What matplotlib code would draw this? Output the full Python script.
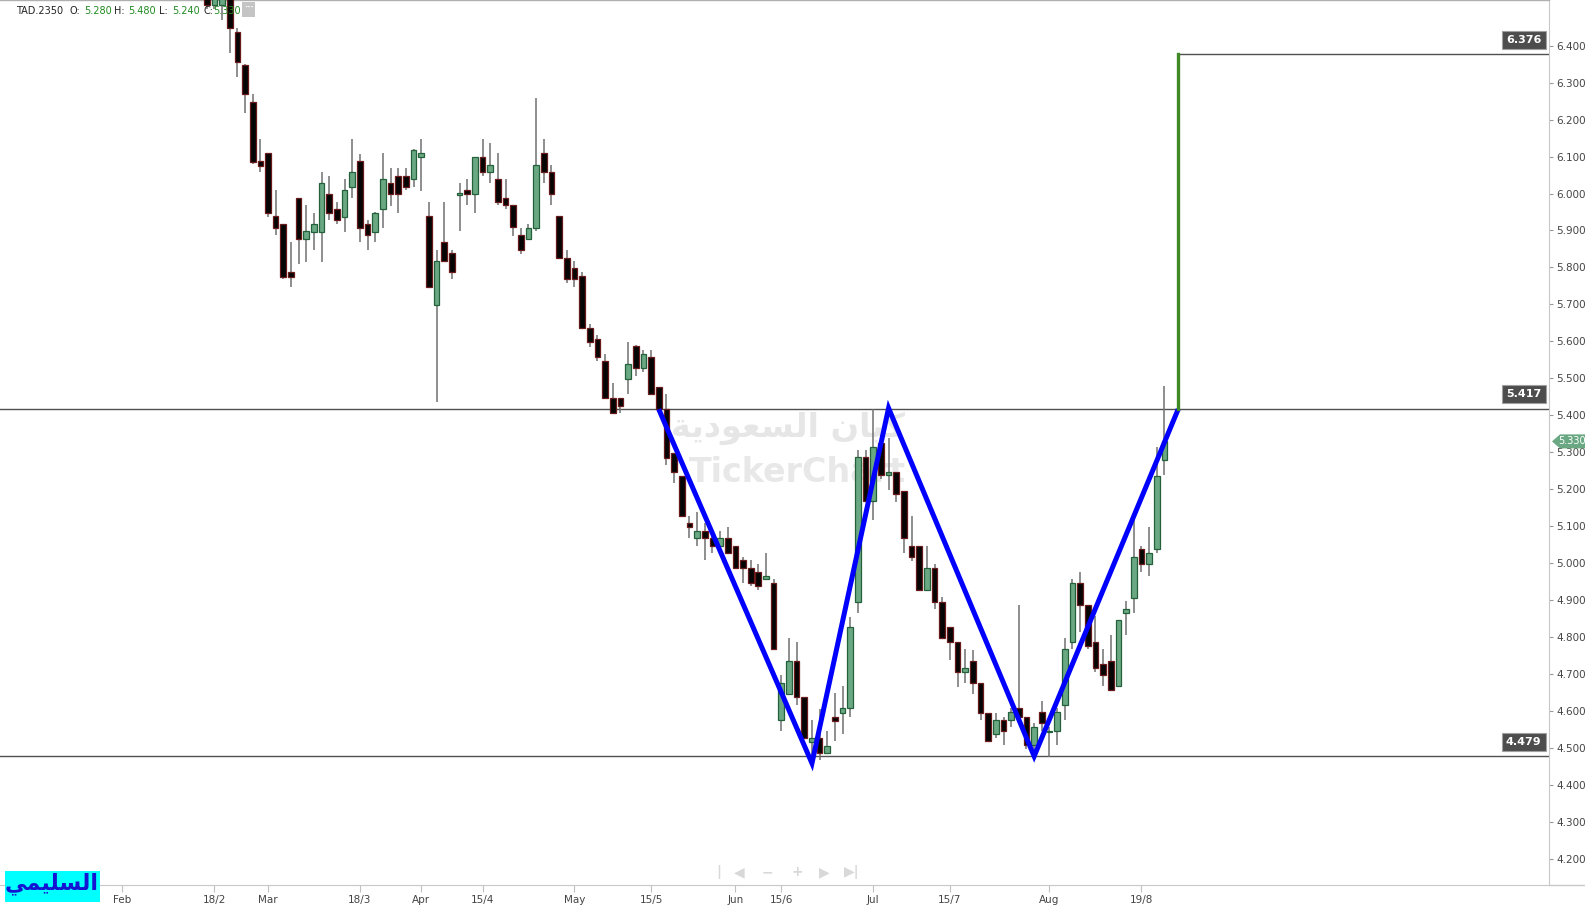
import matplotlib
matplotlib.use('Agg')
import matplotlib.pyplot as plt
from matplotlib.patches import Rectangle, Polygon
from matplotlib.lines import Line2D
import matplotlib.transforms as mtransforms
import numpy as np

W, H = 1585, 907

# ---------------- data ----------------
opens = [6.56, 6.51, 6.51, 6.56, 6.437, 6.347, 6.246, 6.087, 6.109, 5.938,
         5.917, 5.787, 5.987, 5.876, 5.897, 5.897, 5.998, 5.957, 5.937, 6.017,
         6.087, 5.917, 5.897, 5.957, 6.028, 6.047, 6.047, 6.038, 6.098, 5.938,
         5.698, 5.868, 5.838, 5.997, 6.009, 5.998, 6.098, 6.058, 6.038, 5.987,
         5.968, 5.887, 5.876, 5.908, 6.109, 6.058, 5.938, 5.827, 5.798, 5.777,
         5.637, 5.608, 5.547, 5.446, 5.446, 5.498, 5.587, 5.528, 5.557, 5.476,
         5.417, 5.298, 5.237, 5.109, 5.068, 5.088, 5.068, 5.047, 5.068, 5.047,
         5.010, 4.987, 4.976, 4.957, 4.946, 4.577, 4.646, 4.737, 4.638, 4.517,
         4.528, 4.487, 4.586, 4.597, 4.609, 4.897, 5.287, 5.169, 5.325, 5.238,
         5.247, 5.197, 5.047, 5.047, 4.928, 4.987, 4.897, 4.827, 4.787, 4.708,
         4.737, 4.676, 4.597, 4.538, 4.577, 4.577, 4.609, 4.586, 4.510, 4.598,
         4.544, 4.547, 4.618, 4.787, 4.946, 4.888, 4.787, 4.727, 4.737, 4.669,
         4.867, 4.908, 5.038, 4.998, 5.038, 5.280]
highs = [6.60, 6.60, 6.60, 6.60, 6.446, 6.350, 6.268, 6.146, 6.109, 6.010,
         5.917, 5.868, 5.987, 5.969, 5.946, 6.057, 6.047, 5.977, 6.038, 6.146,
         6.108, 5.928, 5.950, 6.109, 6.068, 6.068, 6.068, 6.120, 6.146, 5.978,
         5.847, 5.976, 5.847, 6.028, 6.038, 6.098, 6.146, 6.137, 6.109, 6.038,
         5.968, 5.908, 5.917, 6.258, 6.146, 6.076, 5.938, 5.847, 5.817, 5.787,
         5.646, 5.618, 5.567, 5.487, 5.446, 5.598, 5.590, 5.577, 5.577, 5.476,
         5.457, 5.298, 5.237, 5.128, 5.138, 5.109, 5.088, 5.088, 5.098, 5.047,
         5.017, 5.010, 4.998, 5.027, 4.957, 4.699, 4.798, 4.787, 4.638, 4.577,
         4.607, 4.548, 4.649, 4.669, 4.856, 5.308, 5.308, 5.417, 5.347, 5.338,
         5.247, 5.197, 5.127, 5.047, 5.047, 4.999, 4.909, 4.827, 4.787, 4.768,
         4.766, 4.676, 4.597, 4.597, 4.586, 4.609, 4.888, 4.586, 4.568, 4.627,
         4.557, 4.609, 4.798, 4.957, 4.976, 4.888, 4.857, 4.768, 4.808, 4.847,
         4.898, 5.140, 5.047, 5.098, 5.316, 5.480]
lows = [6.50, 6.50, 6.47, 6.38, 6.316, 6.217, 6.080, 6.057, 5.937, 5.888,
        5.770, 5.746, 5.809, 5.816, 5.846, 5.816, 5.928, 5.917, 5.897, 5.987,
        5.868, 5.847, 5.868, 5.908, 5.967, 5.946, 6.010, 6.017, 6.008, 5.746,
        5.437, 5.817, 5.768, 5.899, 5.968, 5.946, 6.047, 6.028, 5.968, 5.957,
        5.886, 5.837, 5.876, 5.899, 6.028, 5.968, 5.827, 5.757, 5.746, 5.637,
        5.586, 5.546, 5.446, 5.408, 5.408, 5.457, 5.508, 5.517, 5.457, 5.417,
        5.266, 5.217, 5.127, 5.068, 5.047, 5.010, 5.027, 5.047, 5.027, 4.987,
        4.946, 4.939, 4.928, 4.957, 4.768, 4.548, 4.646, 4.618, 4.528, 4.469,
        4.469, 4.487, 4.519, 4.538, 4.586, 4.867, 5.169, 5.118, 5.227, 5.199,
        5.167, 5.027, 5.008, 4.928, 4.928, 4.876, 4.798, 4.739, 4.667, 4.676,
        4.647, 4.577, 4.519, 4.527, 4.509, 4.557, 4.586, 4.498, 4.478, 4.547,
        4.478, 4.510, 4.577, 4.768, 4.816, 4.768, 4.708, 4.669, 4.658, 4.669,
        4.808, 4.867, 4.976, 4.967, 5.028, 5.240]
closes = [6.51, 6.56, 6.56, 6.446, 6.356, 6.268, 6.086, 6.075, 5.946, 5.908,
          5.775, 5.775, 5.876, 5.899, 5.917, 6.028, 5.946, 5.928, 6.009, 6.057,
          5.908, 5.887, 5.946, 6.038, 5.998, 5.998, 6.017, 6.117, 6.109, 5.746,
          5.817, 5.817, 5.787, 6.000, 5.998, 6.098, 6.058, 6.076, 5.976, 5.968,
          5.909, 5.846, 5.908, 6.076, 6.058, 5.998, 5.827, 5.768, 5.768, 5.637,
          5.598, 5.557, 5.446, 5.408, 5.427, 5.538, 5.528, 5.567, 5.457, 5.417,
          5.286, 5.246, 5.127, 5.098, 5.088, 5.068, 5.047, 5.068, 5.027, 4.987,
          4.987, 4.946, 4.939, 4.966, 4.768, 4.676, 4.737, 4.638, 4.528, 4.528,
          4.487, 4.508, 4.575, 4.609, 4.827, 5.287, 5.169, 5.316, 5.238, 5.247,
          5.188, 5.068, 5.017, 4.928, 4.987, 4.897, 4.798, 4.787, 4.708, 4.717,
          4.676, 4.597, 4.519, 4.577, 4.547, 4.598, 4.586, 4.510, 4.557, 4.568,
          4.547, 4.598, 4.768, 4.946, 4.888, 4.777, 4.717, 4.699, 4.658, 4.847,
          4.876, 5.017, 4.998, 5.028, 5.237, 5.330]

tick_idx = [-11, 1, 8, 20, 28, 36, 48, 58, 69, 75, 87, 97, 110, 122]
tick_labels = ['Feb', '18/2', 'Mar', '18/3', 'Apr', '15/4', 'May', '15/5',
               'Jun', '15/6', 'Jul', '15/7', 'Aug', '19/8']

pattern_x = [59, 79, 89, 108, 126.8]
pattern_y = [5.417, 4.460, 5.420, 4.479, 5.417]
target_level = 6.376
neckline = 5.417
support = 4.479
last_close = 5.330
y_ticks = [round(4.2 + 0.1 * k, 1) for k in range(23)]

symbol = 'TAD.2350'
ohlc_head = [('O:', '5.280'), ('H:', '5.480'), ('L:', '5.240'), ('C:', '5.330')]

# Arabic text in shaped (presentation) forms, visual order
logo_text = '\uFEF2\uFEE4\uFEF4\uFEE0\uFEB4\uFEDF\uFE8D'          # السليمي
wm_arabic = '\uFE94\uFEF3\uFEA9\uFEEE\uFECC\uFEB4\uFEDF\uFE8D \uFEE5\uFE8E\uFEF4\uFEDB'  # كيان السعودية

# ---------------- figure ----------------
fig = plt.figure(figsize=(W / 100, H / 100), dpi=100)
fig.patch.set_facecolor('white')
ax = fig.add_axes([0, (H - 885) / H, 1549 / W, 885 / H])

XMIN, XMAX = -26.98, 175.2
ax.set_xlim(XMIN, XMAX)
ax.set_ylim(4.131, 6.523)

def fx(x):
    return x / W

def fy(y):
    return 1 - y / H

# watermark
fig.text(fx(788), fy(428), wm_arabic, ha='center', va='center', fontsize=24,
         fontweight='bold', color='#e6e6e6', zorder=0, family='DejaVu Sans')
fig.text(fx(797), fy(473), 'TickerChart', ha='center', va='center', fontsize=24,
         fontweight='bold', color='#e8e8e8', zorder=0)
ax.set_zorder(1)
ax.patch.set_alpha(0)

o = np.array(opens); h = np.array(highs); l = np.array(lows); c = np.array(closes)
x = np.arange(len(o))
up = c >= o
ax.vlines(x, l, h, color='#707070', lw=1.1, zorder=2)
bot = np.minimum(o, c)
bh = np.maximum(np.abs(c - o), 0.004)
ax.bar(x[up], bh[up], bottom=bot[up], width=0.74, color='#6aa884',
       edgecolor='#24603a', linewidth=0.9, zorder=3)
ax.bar(x[~up], bh[~up], bottom=bot[~up], width=0.74, color='#050505',
       edgecolor='#6a1a1a', linewidth=0.9, zorder=3)

# levels
ax.axhline(neckline, color='#505050', lw=1.0, zorder=1.5)
ax.axhline(support, color='#505050', lw=1.0, zorder=1.5)
ax.hlines(target_level, pattern_x[-1], XMAX, color='#505050', lw=1.0, zorder=1.5)

# pattern
ax.plot(pattern_x, pattern_y, color='#0000ff', lw=3.6, zorder=5,
        solid_joinstyle='miter', solid_capstyle='butt')
ax.plot([pattern_x[-1], pattern_x[-1]], [neckline, target_level],
        color='#3f8a25', lw=2.4, zorder=5)

# level labels
for lvl in [target_level, neckline, support]:
    ax.annotate(f'{lvl:.3f}', xy=(1541.5 / 1549, lvl),
                xycoords=('axes fraction', 'data'), xytext=(0, 7),
                textcoords='offset points', ha='right', va='bottom',
                color='white', fontsize=8, fontweight='bold', zorder=7,
                bbox=dict(boxstyle='square,pad=0.36', fc='#4d4d4d',
                          ec='#a0a0a0', lw=0.8))

# axes styling
ax.spines['left'].set_visible(False)
ax.spines['top'].set_color('#b0b0b0')
ax.spines['top'].set_linewidth(1.0)
ax.spines['right'].set_color('#c8c8c8')
ax.spines['bottom'].set_color('#c8c8c8')
ax.yaxis.tick_right()
ax.set_yticks(y_ticks)
ax.set_yticklabels([f'{v:.3f}' for v in y_ticks])
ax.tick_params(axis='y', direction='out', length=3, width=0.8, pad=2,
               colors='#999999', labelcolor='#444444', labelsize=7.5)
ax.set_xticks(tick_idx)
ax.set_xticklabels(tick_labels)
ax.tick_params(axis='x', direction='out', length=5, width=0.8, pad=2,
               colors='#c0c0c0', labelcolor='#444444', labelsize=7.5)

# extend bottom line to figure edge
fig.add_artist(Line2D([fx(1549), 1.0], [fy(885), fy(885)], color='#c8c8c8',
                      lw=1.0))

# last price marker
tr = mtransforms.blended_transform_factory(fig.transFigure, ax.transData)
hh = 7.0 / 370
poly = Polygon([(fx(1552), last_close), (fx(1560), last_close + hh),
                (1.0, last_close + hh), (1.0, last_close - hh),
                (fx(1560), last_close - hh)], closed=True,
               transform=tr, fc='#6aa884', ec='none', zorder=8, clip_on=False)
fig.add_artist(poly)
fig.text(fx(1572), last_close, f'{last_close:.3f}', transform=tr, ha='center',
         va='center', color='white', fontsize=7, zorder=9)

# header
fig.text(fx(16), fy(11), symbol, ha='left', va='center', fontsize=7,
         color='#222222', zorder=10)
hx = [(69, 84), (114, 128), (159, 172), (203, 213)]
for (lab, val), (xl, xv) in zip(ohlc_head, hx):
    fig.text(fx(xl), fy(11), lab, ha='left', va='center', fontsize=7,
             color='#222222', zorder=10)
    fig.text(fx(xv), fy(11), val, ha='left', va='center', fontsize=7,
             color='#228b22', zorder=10)
fig.add_artist(Rectangle((fx(242), fy(17)), (255 - 242) / W, 15 / H,
                         transform=fig.transFigure, fc='#c4c4c4', ec='none',
                         zorder=10))
fig.text(fx(248.5), fy(8), '···', ha='center', va='center', fontsize=6,
         color='white', fontweight='bold', zorder=11)

# navigation icons
for xi, s in zip([719, 739, 767, 797, 824, 852],
                 ['|', '◀', '−', '+', '▶', '▶|']):
    fig.text(fx(xi), fy(872), s, ha='center', va='center', fontsize=10,
             color='#d8d8d8', fontweight='bold')

# logo
fig.add_artist(Rectangle((fx(5), fy(902)), 95 / W, 31 / H,
                         transform=fig.transFigure, fc='#00ffff', ec='none',
                         zorder=10))
fig.text(fx(52), fy(884), logo_text, ha='center', va='center', fontsize=16,
         fontweight='bold', color='#1414d2', zorder=11, family='DejaVu Sans')

fig.savefig('out.png', dpi=100, facecolor='white')
